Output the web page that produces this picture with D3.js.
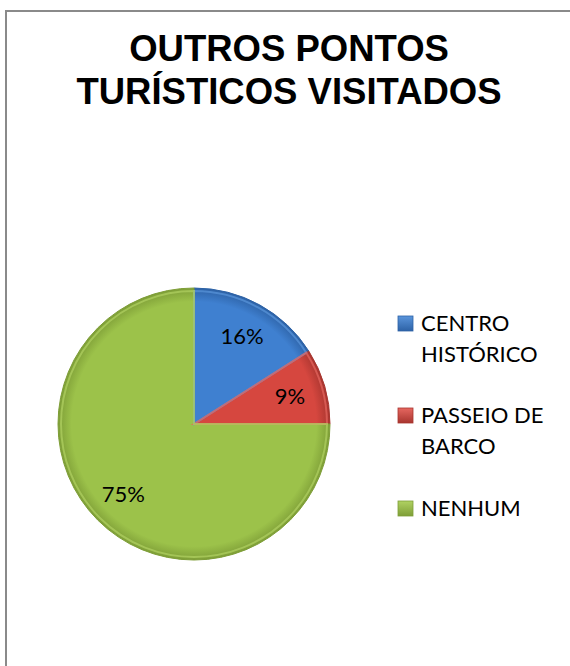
<!DOCTYPE html>
<html>
<head>
<meta charset="utf-8">
<script src="https://cdn.jsdelivr.net/npm/d3@7"></script>
<style>
  body { margin: 0; background: #fff; }
  svg { display: block; }
</style>
</head>
<body>
<svg id="chart" width="570" height="666"></svg>
<script>
// data
const categories = ['CENTRO HISTÓRICO', 'PASSEIO DE BARCO', 'NENHUM'];
const legendLines = [['CENTRO', 'HISTÓRICO'], ['PASSEIO DE', 'BARCO'], ['NENHUM']];
const values = [16, 9, 75];
const titleLines = ['OUTROS PONTOS', 'TURÍSTICOS VISITADOS'];

const base = ['#3f80d0', '#d6473f', '#9cc24a'];
const light = ['#5a95dc', '#e66760', '#b0d262'];
const dark = ['#2d62a6', '#a8352f', '#7e9e37'];

const svg = d3.select('#chart');

// frame
svg.append('rect')
  .attr('x', 6).attr('y', 11)
  .attr('width', 620).attr('height', 700)
  .attr('fill', '#fff')
  .attr('stroke', '#8a8a8a')
  .attr('stroke-width', 2);

// title
svg.append('g').selectAll('text')
  .data(titleLines)
  .enter().append('text')
  .attr('x', 289)
  .attr('y', (d, i) => 61 + i * 43)
  .attr('text-anchor', 'middle')
  .style('font-family', '"Liberation Sans", Arial, sans-serif')
  .style('font-weight', 'bold')
  .style('font-size', '36.5px')
  .style('fill', '#000')
  .text(d => d);

const cx = 194, cy = 424, r = 136;

const defs = svg.append('defs');
categories.forEach((c, i) => {
  const g = defs.append('radialGradient')
    .attr('id', 'grad' + i)
    .attr('gradientUnits', 'userSpaceOnUse')
    .attr('cx', 0).attr('cy', 0).attr('r', r);
  g.append('stop').attr('offset', '0%').attr('stop-color', base[i]);
  g.append('stop').attr('offset', '90%').attr('stop-color', base[i]);
  g.append('stop').attr('offset', '100%').attr('stop-color', dark[i]);

  const lg = defs.append('linearGradient')
    .attr('id', 'leg' + i)
    .attr('x1', 0).attr('y1', 0).attr('x2', 0).attr('y2', 1);
  lg.append('stop').attr('offset', '0%').attr('stop-color', light[i]);
  lg.append('stop').attr('offset', '100%').attr('stop-color', dark[i]);
});

const pie = d3.pie().sort(null).value(d => d);
const arcs = pie(values);
const arc = d3.arc().innerRadius(0).outerRadius(r);
const labelArc = d3.arc().innerRadius(100).outerRadius(100);

const pg = svg.append('g').attr('transform', `translate(${cx},${cy})`);

pg.selectAll('path.slice')
  .data(arcs)
  .enter().append('path')
  .attr('class', 'slice')
  .attr('d', arc)
  .attr('fill', (d, i) => `url(#grad${i})`)
  .attr('stroke', (d, i) => dark[i])
  .attr('stroke-width', 1);

// bevel highlight along each slice edge
const bevel = d3.arc().innerRadius(0).outerRadius(r - 3);
pg.selectAll('path.bevel')
  .data(arcs)
  .enter().append('path')
  .attr('class', 'bevel')
  .attr('d', bevel)
  .attr('fill', 'none')
  .attr('stroke', (d, i) => light[i])
  .attr('stroke-opacity', 0.7)
  .attr('stroke-width', 2);

pg.selectAll('text.lbl')
  .data(arcs)
  .enter().append('text')
  .attr('class', 'lbl')
  .attr('transform', d => `translate(${labelArc.centroid(d)})`)
  .attr('text-anchor', 'middle')
  .attr('dy', '0.35em')
  .style('font-family', 'Lato, "Open Sans", sans-serif')
  .style('font-size', '22px')
  .style('fill', '#000')
  .text(d => d.data + '%');

// legend
const legendY = [331, 423, 516];
const item = svg.append('g').selectAll('g')
  .data(categories)
  .enter().append('g')
  .attr('transform', (d, i) => `translate(398,${legendY[i]})`);

item.append('rect')
  .attr('x', 0).attr('y', -15)
  .attr('width', 15).attr('height', 15)
  .attr('fill', (d, i) => `url(#leg${i})`)
  .attr('stroke', (d, i) => dark[i])
  .attr('stroke-width', 0.8);

item.append('text')
  .style('font-family', 'Lato, "Open Sans", sans-serif')
  .style('font-size', '22px')
  .style('fill', '#000')
  .selectAll('tspan')
  .data((d, i) => legendLines[i])
  .enter().append('tspan')
  .attr('x', 23)
  .attr('y', (d, j) => j * 31)
  .text(d => d);
</script>
</body>
</html>
